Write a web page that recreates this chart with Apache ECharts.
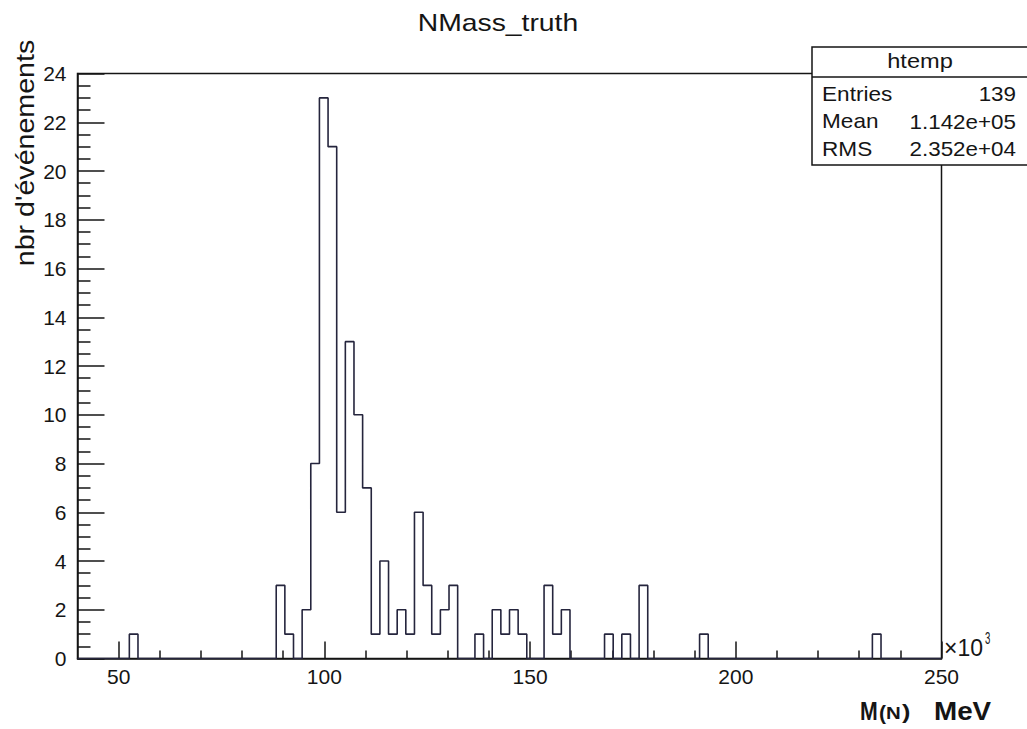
<!DOCTYPE html>
<html>
<head>
<meta charset="utf-8">
<title>NMass_truth</title>
<script src="https://cdn.jsdelivr.net/npm/echarts@6/dist/echarts.min.js"></script>
<style>
  html, body { margin: 0; padding: 0; background: #ffffff; }
  #chart { width: 1027px; height: 729px; }
</style>
</head>
<body>
<div id="chart"></div>
<script>
// Histogram binning: 100 bins from 40 to 250 (units of 10^3 MeV)
const binLow = 40;
const binHigh = 250;
const binCount = 100;

// Entries per bin
const counts = [
  0, 0, 0, 0, 0, 0, 1, 0, 0, 0,
  0, 0, 0, 0, 0, 0, 0, 0, 0, 0,
  0, 0, 0, 3, 1, 0, 2, 8, 23, 21,
  6, 13, 10, 7, 1, 4, 1, 2, 1, 6,
  3, 1, 2, 3, 0, 0, 1, 0, 2, 1,
  2, 1, 0, 0, 3, 1, 2, 0, 0, 0,
  0, 1, 0, 1, 0, 3, 0, 0, 0, 0,
  0, 0, 1, 0, 0, 0, 0, 0, 0, 0,
  0, 0, 0, 0, 0, 0, 0, 0, 0, 0,
  0, 0, 1, 0, 0, 0, 0, 0, 0, 0
];

// Axis ticks
const xMajorTicks = [50, 100, 150, 200, 250];
const xMinorTicks = [60, 70, 80, 90, 110, 120, 130, 140, 160, 170, 180, 190, 210, 220, 230, 240];
const yMax = 24;
const yStep = 2;

// Statistics box
const statsTitle = 'htemp';
const statsRows = [
  ['Entries', '139'],
  ['Mean', '1.142e+05'],
  ['RMS', '2.352e+04']
];

const FONT = '"Liberation Sans"';
const INK = '#151515';
const HIST = '#25253d';

// Step outline: each bin starts at its lower edge, closing point at the upper limit
const binWidth = (binHigh - binLow) / binCount;
const stepData = counts.map((c, i) => [binLow + binWidth * i, c]);
stepData.push([binHigh, 0]);

const chart = echarts.init(document.getElementById('chart'), null, { renderer: 'svg' });

function label(text, x, y, font, align, scaleX, extra) {
  return Object.assign({
    type: 'text', x: x, y: y, scaleX: scaleX || 1,
    style: { text: text, font: font + ' ' + FONT, fill: INK, align: align, verticalAlign: 'middle' }
  }, extra || {});
}

const statsGraphics = [
  {
    type: 'rect', z: 100,
    shape: { x: 812, y: 47, width: 230, height: 118 },
    style: { fill: '#ffffff', stroke: INK, lineWidth: 1.5 }
  },
  {
    type: 'line', z: 101,
    shape: { x1: 812, y1: 77, x2: 1040, y2: 77 },
    style: { stroke: INK, lineWidth: 1.5 }
  },
  label(statsTitle, 920, 61.5, '20px', 'center', 1.18, { z: 102 })
];
statsRows.forEach((row, i) => {
  const y = 94 + i * 27.6;
  statsGraphics.push(label(row[0], 822, y, '20px', 'left', 1.13, { z: 102 }));
  statsGraphics.push(label(row[1], 1016, y, '20px', 'right', 1.12, { z: 102 }));
});

const option = {
  animation: false,
  backgroundColor: '#ffffff',
  grid: {
    left: 77.5, top: 73.5, width: 864, height: 585,
    show: true, borderColor: INK, borderWidth: 1.5, backgroundColor: 'transparent'
  },
  xAxis: [
    {
      type: 'value', min: binLow, max: binHigh, position: 'bottom',
      axisLine: { show: true, onZero: false, lineStyle: { color: INK, width: 1.5 } },
      axisTick: { show: true, inside: true, length: 17, customValues: xMajorTicks, lineStyle: { color: INK, width: 1.5 } },
      axisLabel: { show: true, customValues: xMajorTicks, margin: 7, color: INK, fontSize: 21, fontFamily: 'Liberation Sans' },
      splitLine: { show: false }
    },
    {
      type: 'value', min: binLow, max: binHigh, position: 'bottom', offset: 0,
      axisLine: { show: false },
      axisTick: { show: true, inside: true, length: 8, customValues: xMinorTicks, lineStyle: { color: INK, width: 1.5 } },
      axisLabel: { show: false },
      splitLine: { show: false }
    }
  ],
  yAxis: {
    type: 'value', min: 0, max: yMax, interval: yStep,
    axisLine: { show: true, onZero: false, lineStyle: { color: INK, width: 1.5 } },
    axisTick: { show: true, inside: true, length: 27, lineStyle: { color: INK, width: 1.5 } },
    minorTick: { show: true, splitNumber: 4, length: 13, lineStyle: { color: INK, width: 1.5 } },
    axisLabel: { margin: 11, color: INK, fontSize: 21, fontFamily: 'Liberation Sans' },
    splitLine: { show: false }
  },
  series: [
    {
      type: 'line',
      xAxisIndex: 0,
      step: 'end',
      symbol: 'none',
      data: stepData,
      lineStyle: { color: HIST, width: 1.6 },
      z: 3
    }
  ],
  graphic: [
    // title
    label('NMass_truth', 498, 23, '24px', 'center', 1.18),
    // y axis title, reading upwards
    label("nbr d'événements", 25, 153, '26px', 'center', 1.1, { rotation: Math.PI / 2 }),
    // axis multiplier
    label('×10', 944, 648, '23px', 'left', 1),
    label('3', 985, 639, '16px', 'left', 0.6),
    // x axis title
    label('M', 860, 711, 'bold 26px', 'left', 0.82),
    label('(', 879, 712, 'bold 21px', 'left', 1),
    label('N', 886, 713, 'bold 17px', 'left', 1.2),
    label(')', 902, 712, 'bold 21px', 'left', 1.2),
    label('MeV', 934, 711, 'bold 26px', 'left', 1.07)
  ].concat(statsGraphics)
};

chart.setOption(option);
</script>
</body>
</html>
